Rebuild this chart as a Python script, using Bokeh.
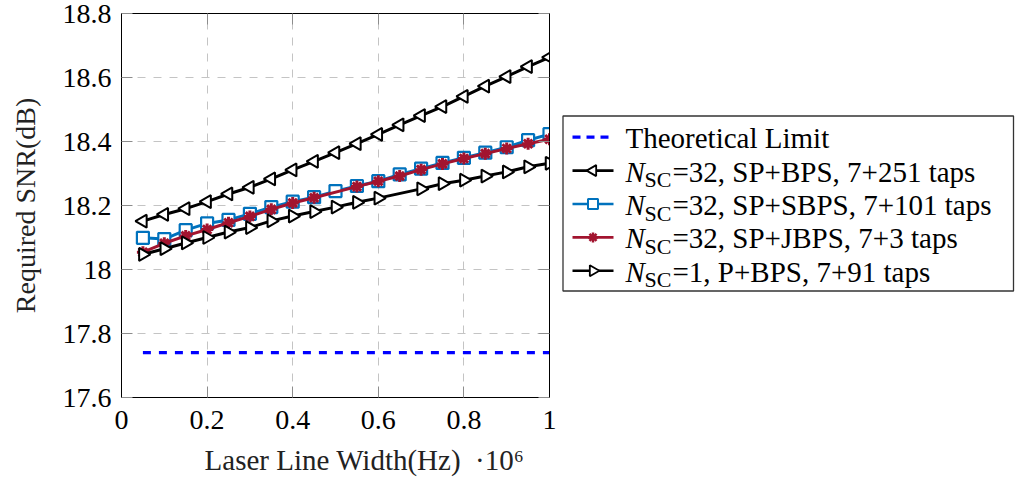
import numpy as np
from bokeh.plotting import figure
from bokeh.layouts import row
from bokeh.models import Range1d, FixedTicker, LinearAxis, CustomJSTickFormatter
from bokeh.core.properties import value
from bokeh.embed import file_html
from bokeh.resources import INLINE

# ---------------- data (x in units of 1e6 Hz) ----------------
linewidth = [0.05, 0.10, 0.15, 0.20, 0.25, 0.30, 0.35, 0.40, 0.45, 0.50,
             0.55, 0.60, 0.65, 0.70, 0.75, 0.80, 0.85, 0.90, 0.95, 1.00]

theory_x = [0.05, 1.00]
theory_snr = [17.74, 17.74]

snr_sp_bps = [18.151, 18.172, 18.190, 18.212, 18.236, 18.257, 18.283, 18.311, 18.338, 18.365,
              18.393, 18.422, 18.452, 18.481, 18.509, 18.541, 18.573, 18.603, 18.634, 18.663]

snr_sp_sbps = [18.099, 18.095, 18.123, 18.144, 18.155, 18.174, 18.195, 18.212, 18.226, 18.245,
               18.261, 18.276, 18.297, 18.315, 18.333, 18.349, 18.365, 18.382, 18.404, 18.423]

x_sp_jbps = [0.05, 0.10, 0.15, 0.20, 0.25, 0.30, 0.35, 0.40, 0.45,
             0.55, 0.60, 0.65, 0.70, 0.75, 0.80, 0.85, 0.90, 0.95, 1.00]
snr_sp_jbps = [18.054, 18.082, 18.105, 18.125, 18.146, 18.166, 18.188, 18.208, 18.224,
               18.259, 18.276, 18.292, 18.312, 18.330, 18.347, 18.362, 18.378, 18.393, 18.407]

x_p_bps = [0.05, 0.10, 0.15, 0.20, 0.25, 0.30, 0.35, 0.40, 0.45, 0.50,
           0.55, 0.60, 0.70, 0.75, 0.80, 0.85, 0.90, 0.95, 1.00]
snr_p_bps = [18.047, 18.065, 18.083, 18.100, 18.117, 18.131, 18.152, 18.167, 18.181, 18.195,
             18.210, 18.223, 18.252, 18.268, 18.279, 18.292, 18.305, 18.321, 18.332]

x_ticks = [0, 0.2, 0.4, 0.6, 0.8, 1.0]
y_ticks = [17.6, 17.8, 18.0, 18.2, 18.4, 18.6, 18.8]

x_label = "Laser Line Width(Hz)"
x_scale_label = "\u00b710\u2076"
y_label = "Required SNR(dB)"

legend_labels = ["Theoretical Limit",
                 ("N", "SC", "=32, SP+BPS, 7+251 taps"),
                 ("N", "SC", "=32, SP+SBPS, 7+101 taps"),
                 ("N", "SC", "=32, SP+JBPS, 7+3 taps"),
                 ("N", "SC", "=1, P+BPS, 7+91 taps")]

BLUE = "#0072BD"
RED = "#A2142F"
FONT = "Liberation Serif"

# ---------------- main plot ----------------
p = figure(width=556, height=479, x_range=Range1d(0, 1), y_range=Range1d(17.6, 18.8),
           output_backend="svg", toolbar_location=None,
           min_border_left=121, min_border_right=7, min_border_top=13, min_border_bottom=82)
p.outline_line_color = "black"
p.outline_line_width = 1
p.background_fill_color = "white"
p.border_fill_color = "white"

fmt = CustomJSTickFormatter(code="return String(Math.round(tick*10)/10);")

def style_axis(ax, ticks, labels=True):
    ax.ticker = FixedTicker(ticks=ticks)
    ax.axis_line_color = "black"
    ax.axis_line_width = 1
    ax.major_tick_in = 11
    ax.major_tick_out = 0
    ax.major_tick_line_color = "#8c8c8c"
    ax.minor_tick_line_color = None
    ax.major_label_text_font = FONT
    ax.axis_label_text_font = FONT
    ax.axis_label_text_font_style = "normal"
    ax.axis_label_text_color = "#222222"
    if labels:
        ax.formatter = fmt
        ax.major_label_text_color = "black"
        ax.major_label_text_font_size = "28px"
    else:
        ax.major_label_text_color = None
        ax.major_label_text_font_size = "1px"
        ax.major_label_standoff = 0

style_axis(p.xaxis[0], x_ticks)
style_axis(p.yaxis[0], y_ticks)
p.xaxis[0].major_label_standoff = 13
p.yaxis[0].major_label_standoff = 10

# x label (with the x10^6 scale factor right of it); leading em spaces keep
# the label's own text centred under the frame as in the reference
p.xaxis[0].axis_label = "\u2003\u2003" + x_label + "\u2002" + x_scale_label
p.xaxis[0].axis_label_text_font_size = "29px"
p.xaxis[0].axis_label_standoff = 12

p.yaxis[0].axis_label = y_label
p.yaxis[0].axis_label_text_font_size = "28px"
p.yaxis[0].axis_label_standoff = 19

top_ax = LinearAxis()
right_ax = LinearAxis()
style_axis(top_ax, x_ticks, labels=False)
style_axis(right_ax, y_ticks, labels=False)
p.add_layout(top_ax, "above")
p.add_layout(right_ax, "right")

for g in (p.xgrid[0], p.ygrid[0]):
    g.grid_line_color = "#c4c4c4"
    g.grid_line_dash = "8 8"
    g.grid_line_width = 1

# series
p.line(theory_x, theory_snr, line_color="#0000ff", line_width=3.2, line_dash="8 8")

p.line(linewidth, snr_sp_bps, line_color="black", line_width=3)
p.scatter(linewidth, snr_sp_bps, marker="triangle", angle=np.pi / 2, size=13,
          fill_color="white", line_color="black", line_width=2)

p.line(linewidth, snr_sp_sbps, line_color=BLUE, line_width=3)
p.scatter(linewidth, snr_sp_sbps, marker="square", size=12,
          fill_color="white", line_color=BLUE, line_width=2.2)

p.line(x_sp_jbps, snr_sp_jbps, line_color=RED, line_width=3)
p.scatter(x_sp_jbps, snr_sp_jbps, marker="asterisk", size=12,
          line_color=RED, line_width=3)

p.line(x_p_bps, snr_p_bps, line_color="black", line_width=3)
p.scatter(x_p_bps, snr_p_bps, marker="triangle", angle=-np.pi / 2, size=13,
          fill_color="white", line_color="black", line_width=2)

# ---------------- legend panel (data units = page pixels) ----------------
OX = 556
lg = figure(width=474, height=479, x_range=Range1d(0, 474), y_range=Range1d(397, 13),
            output_backend="svg", toolbar_location=None, min_border=0,
            min_border_top=13, min_border_bottom=82,
            x_axis_location=None, y_axis_location=None)
lg.outline_line_color = None
lg.grid.visible = False
lg.background_fill_color = "white"
lg.border_fill_color = "white"

lg.quad(left=[562.5 - OX], right=[1013 - OX], top=[115.5], bottom=[290.5],
        fill_color="white", line_color="#333333", line_width=1.3)

row_y = [136.7, 170.1, 203.5, 236.9, 270.3]
sx0, sx1, smid = 572 - OX, 613 - OX, 592.5 - OX
tx = 625 - OX

styles = [
    dict(color="#0000ff", dash="8 6", marker=None),
    dict(color="black", dash="solid", marker=("triangle", np.pi / 2, "white", 11, 1.8)),
    dict(color=BLUE, dash="solid", marker=("square", 0, "white", 10, 2)),
    dict(color=RED, dash="solid", marker=("asterisk", 0, None, 10, 2.5)),
    dict(color="black", dash="solid", marker=("triangle", -np.pi / 2, "white", 11, 1.8)),
]

for yc, st, lab in zip(row_y, styles, legend_labels):
    lw = 3.2 if st["marker"] is None else 2.6
    lg.line([sx0, sx1], [yc, yc], line_color=st["color"], line_width=lw, line_dash=st["dash"])
    if st["marker"] is not None:
        m, ang, fc, sz, mlw = st["marker"]
        lg.scatter([smid], [yc], marker=m, angle=ang, size=sz, fill_color=fc,
                   line_color=st["color"], line_width=mlw)
    mid = yc + 1
    if isinstance(lab, str):
        lg.text([tx], [mid], text=[lab], text_font=value(FONT), text_font_size="29px",
                text_baseline="middle", text_align="left", text_color="black")
    else:
        n, sub, rest = lab
        lg.text([tx], [mid], text=[n], text_font=value(FONT), text_font_size="29px",
                text_font_style="italic", text_baseline="middle", text_align="left",
                text_color="black")
        lg.text([tx + 19], [mid + 8], text=[sub], text_font=value(FONT), text_font_size="22px",
                text_baseline="middle", text_align="left", text_color="black")
        lg.text([tx + 47], [mid], text=[rest], text_font=value(FONT), text_font_size="29px",
                text_baseline="middle", text_align="left", text_color="black")

layout = row(p, lg, spacing=0)
open("out.html", "w").write(file_html(layout, INLINE))
